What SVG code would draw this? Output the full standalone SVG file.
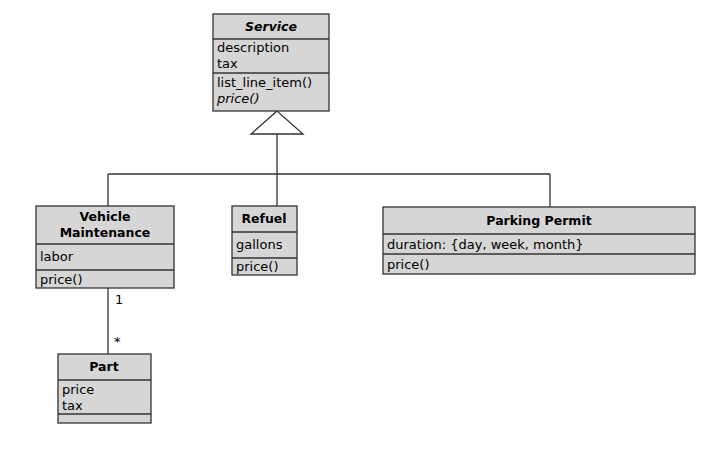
<svg xmlns="http://www.w3.org/2000/svg" width="713" height="450" viewBox="0 0 713 450">
<style>
.box{fill:#d6d6d6;stroke:#333;stroke-width:1.3}
.div{stroke:#333;stroke-width:1.3}
.ln{stroke:#333;stroke-width:1.3;fill:none}
text{font-family:"DejaVu Sans","Liberation Sans",sans-serif;font-size:13px;fill:#000}
.t{font-weight:bold;text-anchor:middle;font-size:12.5px}
.i{font-style:italic}
</style>
<rect width="713" height="450" fill="#fff"/>
<g id="connectors">
<polygon points="277,111 251,134 303,134" fill="#fff" stroke="#333" stroke-width="1.3"/>
<path class="ln" d="M277,134 V174 M108,174 H550 M108,174 V206 M277,174 V206 M550,174 V207"/>
<path class="ln" d="M108,288 V354"/>
<text x="115" y="304">1</text>
<text x="114" y="346">*</text>
</g>
<g id="service">
<rect class="box" x="213" y="14" width="116" height="97"/>
<line class="div" x1="213" y1="39" x2="329" y2="39"/>
<line class="div" x1="213" y1="73" x2="329" y2="73"/>
<text class="t i" x="271" y="31">Service</text>
<text x="217" y="52">description</text>
<text x="217" y="68">tax</text>
<text x="217" y="87">list_line_item()</text>
<text class="i" x="217" y="103">price()</text>
</g>
<g id="vehicle-maintenance">
<rect class="box" x="36" y="206" width="138" height="82"/>
<line class="div" x1="36" y1="244" x2="174" y2="244"/>
<line class="div" x1="36" y1="270" x2="174" y2="270"/>
<text class="t" x="105" y="221">Vehicle</text>
<text class="t" x="105" y="237">Maintenance</text>
<text x="40" y="261">labor</text>
<text x="40" y="284">price()</text>
</g>
<g id="refuel">
<rect class="box" x="232" y="206" width="65" height="69"/>
<line class="div" x1="232" y1="232" x2="297" y2="232"/>
<line class="div" x1="232" y1="258" x2="297" y2="258"/>
<text class="t" x="264" y="223">Refuel</text>
<text x="236" y="249">gallons</text>
<text x="236" y="271">price()</text>
</g>
<g id="parking-permit">
<rect class="box" x="383" y="207" width="312" height="67"/>
<line class="div" x1="383" y1="234" x2="695" y2="234"/>
<line class="div" x1="383" y1="254" x2="695" y2="254"/>
<text class="t" x="539" y="225">Parking Permit</text>
<text x="387" y="249">duration: {day, week, month}</text>
<text x="387" y="269">price()</text>
</g>
<g id="part">
<rect class="box" x="58" y="354" width="93" height="69"/>
<line class="div" x1="58" y1="380" x2="151" y2="380"/>
<line class="div" x1="58" y1="414" x2="151" y2="414"/>
<text class="t" x="104" y="371">Part</text>
<text x="62" y="394">price</text>
<text x="62" y="410">tax</text>
</g>
</svg>
